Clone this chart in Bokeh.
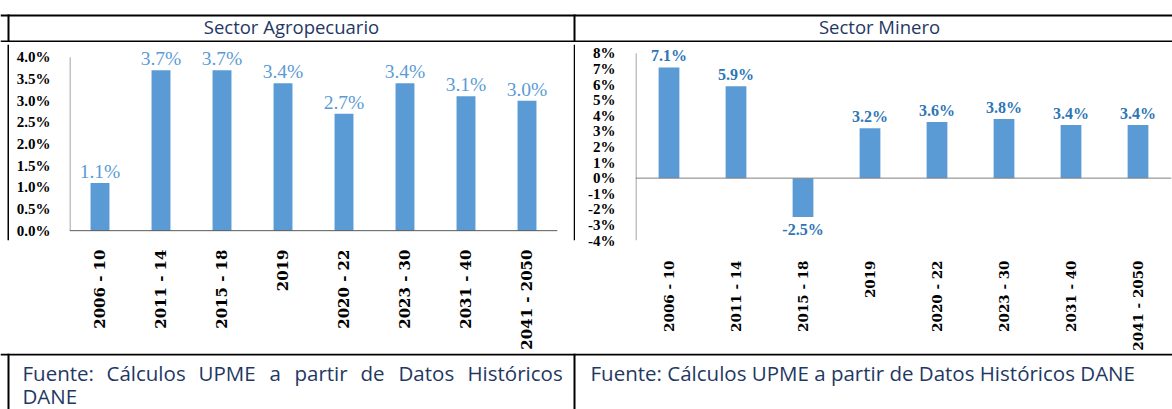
import math
from bokeh.plotting import figure
from bokeh.models import (FactorRange, Range1d, FixedTicker, CustomJSTickFormatter, Span,
                          ColumnDataSource, LabelSet)
from bokeh.layouts import row, column
from bokeh.core.properties import value
from bokeh.embed import file_html
from bokeh.resources import INLINE

# ---------------- data ----------------
periods = ["2006 - 10", "2011 - 14", "2015 - 18", "2019", "2020 - 22", "2023 - 30", "2031 - 40", "2041 - 2050"]
agro_growth = [1.1, 3.7, 3.7, 3.4, 2.7, 3.4, 3.1, 3.0]
minero_growth = [7.1, 5.9, -2.5, 3.2, 3.6, 3.8, 3.4, 3.4]
agro_ticks = [0.0, 0.5, 1.0, 1.5, 2.0, 2.5, 3.0, 3.5, 4.0]
minero_ticks = [-4, -3, -2, -1, 0, 1, 2, 3, 4, 5, 6, 7, 8]
panel_titles = ["Sector Agropecuario", "Sector Minero"]
source_note = "Fuente: Cálculos UPME a partir de Datos Históricos DANE"

BAR = "#5B9BD5"
NAVY = "#1F3864"


def canvas(w, h):
    p = figure(width=w, height=h, x_range=Range1d(0, w), y_range=Range1d(h, 0),
               output_backend="svg", toolbar_location=None, min_border=0,
               x_axis_type=None, y_axis_type=None, outline_line_color=None)
    p.xgrid.visible = False
    p.ygrid.visible = False
    return p


def put_text(p, xs, ys, texts, size, align="left"):
    s = ColumnDataSource(dict(x=xs, y=ys, t=texts))
    p.add_layout(LabelSet(x="x", y="y", text="t", source=s, text_font=value("Open Sans"),
                          text_font_size=size, text_color=NAVY, text_align=align,
                          text_baseline="alphabetic"))


def bar_chart(vals, ticks, dec, yrange, w, h, mb, tick_fs, tick_standoff, xl_fs, xl_standoff,
              lab_fs, lab_style, lab_color, lab_up, lab_down, zero_color):
    p = figure(x_range=FactorRange(*periods), y_range=Range1d(*yrange),
               width=w, height=h, output_backend="svg", toolbar_location=None,
               min_border_left=mb[0], min_border_right=mb[1], min_border_top=mb[2],
               min_border_bottom=mb[3], outline_line_color=None)
    p.xgrid.grid_line_color = None
    p.ygrid.grid_line_color = None
    fw = w - mb[0] - mb[1]
    edge = 0.5 * len(periods) / fw  # half a pixel, in synthetic category units
    # value axis line, only across the tick span
    p.segment(x0=[edge], x1=[edge], y0=[ticks[0]], y1=[ticks[-1]],
              line_color="#868686", line_width=1)
    src = ColumnDataSource(dict(period=periods, value=vals))
    p.vbar(x="period", top="value", bottom=0, width=0.31, source=src,
           fill_color=BAR, line_color=None)
    p.add_layout(Span(location=0, dimension="width", line_color=zero_color, line_width=1))

    pos = [(c, v) for c, v in zip(periods, vals) if v >= 0]
    neg = [(c, v) for c, v in zip(periods, vals) if v < 0]
    for group, base, off in ((pos, "alphabetic", lab_up), (neg, "top", -lab_down)):
        if not group:
            continue
        s = ColumnDataSource(dict(x=[c for c, v in group], y=[v for c, v in group],
                                  t=["{:.1f}%".format(v) for c, v in group]))
        p.add_layout(LabelSet(x="x", y="y", text="t", source=s, text_font=value("Liberation Serif"),
                              text_font_style=lab_style, text_font_size=lab_fs, text_color=lab_color,
                              text_align="center", text_baseline=base, y_offset=off))

    ya = p.yaxis[0]
    ya.ticker = FixedTicker(ticks=ticks)
    ya.formatter = CustomJSTickFormatter(code=f"return tick.toFixed({dec}) + '%';")
    ya.major_label_text_font = "Liberation Serif"
    ya.major_label_text_font_style = "bold"
    ya.major_label_text_font_size = tick_fs
    ya.major_label_text_color = "black"
    ya.major_tick_line_color = None
    ya.minor_tick_line_color = None
    ya.axis_line_color = None
    ya.major_label_standoff = tick_standoff

    xa = p.xaxis[0]
    xa.major_label_orientation = math.pi / 2
    xa.major_label_text_font = "DejaVu Serif"
    xa.major_label_text_font_style = "bold"
    xa.major_label_text_font_size = xl_fs
    xa.major_label_text_color = "black"
    xa.major_tick_line_color = None
    xa.minor_tick_line_color = None
    xa.axis_line_color = None
    xa.major_label_standoff = xl_standoff
    return p


# ---------------- table header ----------------
top = canvas(1172, 42)
top.quad(left=[0, 0, 7, 573], right=[1172, 1172, 9, 575], top=[14, 40, 14, 14], bottom=[16, 42, 42, 42],
         fill_color="black", line_color=None)
put_text(top, [291, 879], [33, 33], panel_titles, "18.5px", align="center")

# ---------------- charts ----------------
left_edge = canvas(9, 311)
left_edge.quad(left=[7], right=[9], top=[0], bottom=[311], fill_color="black", line_color=None)
divider = canvas(2, 311)
divider.quad(left=[0], right=[2], top=[0], bottom=[311], fill_color="black", line_color=None)

left_chart = bar_chart(agro_growth, agro_ticks, 1, (-0.227, 4.295), 564, 311, (60, 16, 2, 110),
                       "15px", 13, "15px", 3, "19.5px", "normal", "#5B9BD5", 5, 4, "#595959")
right_chart = bar_chart(minero_growth, minero_ticks, 0, (-4.0, 8.57), 597, 311, (60, 1, 2, 110),
                        "15px", 14, "13.5px", 14, "16px", "bold", "#2E75B6", 6, 4, "#808080")

middle = row(left_edge, left_chart, divider, right_chart)

# ---------------- table footer ----------------
bottom = canvas(1172, 56)
bottom.quad(left=[0, 7, 573], right=[1172, 9, 575], top=[0, 0, 0], bottom=[2, 56, 56],
            fill_color="black", line_color=None)
words = source_note.split()
line1 = words[:-1]
word_x = [22, 106, 198, 269, 294, 360, 398, 467]
put_text(bottom, word_x, [27] * len(line1), line1, "20.5px")
put_text(bottom, [22], [50], [words[-1]], "20.5px")
put_text(bottom, [590], [27], [source_note], "20.5px")

layout = column(top, middle, bottom)
open("out.html", "w").write(file_html(layout, INLINE))
